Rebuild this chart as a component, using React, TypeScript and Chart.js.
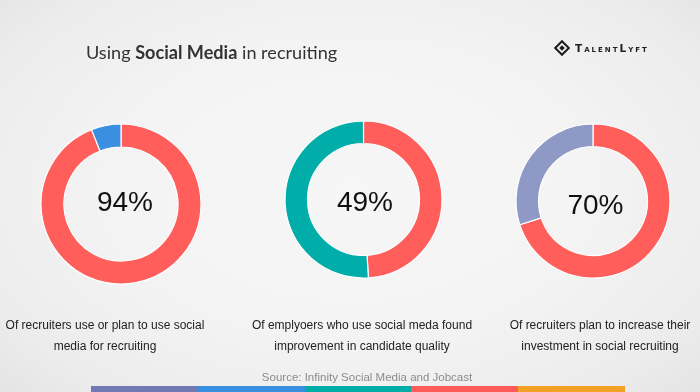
import React, { useEffect, useRef } from "react";
import { Chart, registerables } from "chart.js";

Chart.register(...registerables);

// ---- data ----
const donutLabels = ["Yes", "No"];
const recruitersUseSocial = [94, 6];
const employersFoundImprovement = [49, 51];
const recruitersIncreaseInvestment = [70, 30];
const centerLabels = ["94%", "49%", "70%"];
const captions = [
  ["Of recruiters use or plan to use social", "media for recruiting"],
  ["Of emplyoers who use social meda found", "improvement in candidate quality"],
  ["Of recruiters plan to increase their", "investment in social recruiting"],
];
const titlePlain1 = "Using ";
const titleBold = "Social Media";
const titlePlain2 = " in recruiting";
const sourceText = "Source: Infinity Social Media and Jobcast";
const brandText = "TalentLyft";

// ---- styles ----
const RED = "#FF5E5B";
const donutColors = [
  [RED, "#3A8FE0"],
  [RED, "#00ADA9"],
  [RED, "#8F99C6"],
];
const stripeColors = ["#7379B5", "#3A90E0", "#00ADA7", "#FF5B5A", "#F7A026"];

type DonutProps = {
  values: number[];
  colors: string[];
  cx: number;
  cy: number;
  r: number;
  inner: number;
};

function Donut({ values, colors, cx, cy, r, inner }: DonutProps) {
  const ref = useRef<HTMLCanvasElement | null>(null);
  const size = Math.ceil(r * 2 + 12);
  useEffect(() => {
    if (!ref.current) return;
    const chart = new Chart(ref.current, {
      type: "doughnut",
      data: {
        labels: donutLabels,
        datasets: [
          {
            data: values,
            backgroundColor: colors,
            borderColor: "#ffffff",
            borderWidth: 1.2,
          },
        ],
      },
      options: {
        responsive: false,
        maintainAspectRatio: false,
        animation: false,
        radius: r,
        cutout: ((inner / r) * 100).toFixed(2) + "%",
        layout: { padding: 0 },
        plugins: {
          legend: { display: false },
          tooltip: { enabled: false },
        },
      },
    });
    return () => chart.destroy();
  }, []);
  return (
    <canvas
      ref={ref}
      width={size}
      height={size}
      style={{
        position: "absolute",
        left: cx - size / 2,
        top: cy - size / 2,
        width: size,
        height: size,
      }}
    />
  );
}

const donuts = [
  { values: recruitersUseSocial, cx: 120.5, cy: 204, r: 80, inner: 57, tx: 125, ty: 202, capX: 105 },
  { values: employersFoundImprovement, cx: 363, cy: 199.5, r: 78.5, inner: 56, tx: 365, ty: 201.5, capX: 362 },
  { values: recruitersIncreaseInvestment, cx: 593, cy: 201, r: 77, inner: 54.5, tx: 595.5, ty: 204.5, capX: 600 },
];

function Logo() {
  return (
    <div style={{ position: "absolute", left: 554, top: 40, height: 16, display: "flex", alignItems: "center" }}>
      <svg width="16" height="16" viewBox="0 0 16 16">
        <path d="M8 1.2 L14.8 8 L8 14.8 L1.2 8 Z" fill="none" stroke="#1e1e1e" strokeWidth="2" />
        <path d="M8 5.2 L10.8 8 L8 10.8 L5.2 8 Z" fill="#1e1e1e" />
      </svg>
      <span
        style={{
          marginLeft: 5,
          fontFamily: "'DejaVu Sans', sans-serif",
          fontVariant: "small-caps",
          fontWeight: 700,
          fontSize: 10.5,
          letterSpacing: 2.0,
          color: "#1e1e1e",
        }}
      >
        {brandText}
      </span>
    </div>
  );
}

export default function App() {
  useEffect(() => {
    document.body.style.margin = "0";
  }, []);
  return (
    <div
      style={{
        position: "fixed",
        left: 0,
        top: 0,
        width: 700,
        height: 392,
        overflow: "hidden",
        background:
          "radial-gradient(ellipse 72% 78% at 50% 48%, #f6f6f6 0%, #f4f4f4 45%, #ececec 80%, #e2e2e2 100%)",
      }}
    >
      <div
        style={{
          position: "absolute",
          left: 86,
          top: 40,
          height: 24,
          lineHeight: "24px",
          fontFamily: "Lato, 'Open Sans', sans-serif",
          fontSize: 18.1,
          color: "#333333",
          whiteSpace: "nowrap",
        }}
      >
        {titlePlain1}
        <b>{titleBold}</b>
        {titlePlain2}
      </div>
      <Logo />
      {donuts.map((d, i) => (
        <React.Fragment key={i}>
          <Donut values={d.values} colors={donutColors[i]} cx={d.cx} cy={d.cy} r={d.r} inner={d.inner} />
          <div
            style={{
              position: "absolute",
              left: d.tx - 50,
              top: d.ty - 16,
              width: 100,
              height: 32,
              lineHeight: "32px",
              textAlign: "center",
              fontFamily: "'Liberation Sans', Arial, sans-serif",
              fontSize: 28,
              color: "#111111",
            }}
          >
            {centerLabels[i]}
          </div>
          <div
            style={{
              position: "absolute",
              left: d.capX - 130,
              top: 315,
              width: 260,
              textAlign: "center",
              fontFamily: "'Liberation Sans', Arial, sans-serif",
              fontSize: 12,
              lineHeight: "21px",
              color: "#222222",
            }}
          >
            {captions[i][0]}
            <br />
            {captions[i][1]}
          </div>
        </React.Fragment>
      ))}
      <div
        style={{
          position: "absolute",
          left: 367 - 150,
          top: 370,
          width: 300,
          height: 15,
          lineHeight: "15px",
          textAlign: "center",
          fontFamily: "'Liberation Sans', Arial, sans-serif",
          fontSize: 11.5,
          color: "#8c8c8c",
        }}
      >
        {sourceText}
      </div>
      <div style={{ position: "absolute", left: 91, top: 386, width: 534, height: 6, display: "flex" }}>
        {stripeColors.map((c, i) => (
          <div key={i} style={{ flex: 1, background: c }} />
        ))}
      </div>
    </div>
  );
}
